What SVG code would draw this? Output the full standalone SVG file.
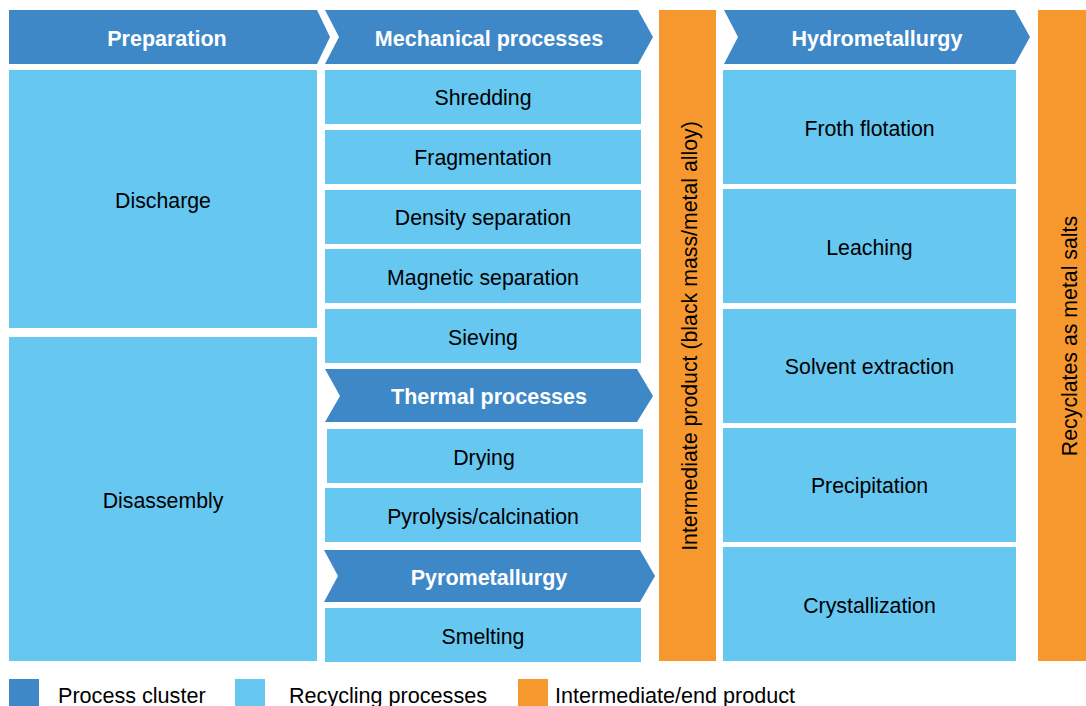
<svg xmlns="http://www.w3.org/2000/svg" width="1086" height="706" viewBox="0 0 1086 706">
<style>
.cl{fill:#3E88C8}
.rp{fill:#66C7F1}
.ip{fill:#F7982F}
text{font-family:"Liberation Sans",Arial,Helvetica,sans-serif}
.h{font-size:21.5px;font-weight:bold;fill:#FFFFFF;text-anchor:middle}
.t{font-size:21.3px;fill:#000000;text-anchor:middle}
.lg{font-size:21.6px;fill:#000000}
</style>
<rect width="1086" height="706" fill="#FFFFFF"/>
<g id="preparation"><polygon class="cl" points="9,10 317,10 330,37 317,64 9,64"/><text class="h" x="167" y="46">Preparation</text></g>
<g id="mechanical"><polygon class="cl" points="325,10 638,10 653,37 638,64 325,64 339,37"/><text class="h" x="489" y="46">Mechanical processes</text></g>
<g id="intermediate"><rect class="ip" x="659" y="10" width="57" height="651"/><text class="t" transform="translate(697,336) rotate(-90)">Intermediate product (black mass/metal alloy)</text></g>
<g id="hydrometallurgy"><polygon class="cl" points="724,10 1015,10 1030,37 1015,64 724,64 738,37"/><text class="h" x="877" y="46">Hydrometallurgy</text></g>
<g id="recyclates"><rect class="ip" x="1038" y="10" width="48" height="651"/><text class="t" transform="translate(1077,336) rotate(-90)">Recyclates as metal salts</text></g>
<g id="discharge"><rect class="rp" x="9" y="70" width="308" height="258"/><text class="t" x="163" y="208">Discharge</text></g>
<g id="disassembly"><rect class="rp" x="9" y="337" width="308" height="324"/><text class="t" x="163" y="508">Disassembly</text></g>
<g id="shredding"><rect class="rp" x="325" y="70" width="316" height="54"/><text class="t" x="483" y="105">Shredding</text></g>
<g id="fragmentation"><rect class="rp" x="325" y="130" width="316" height="54"/><text class="t" x="483" y="165">Fragmentation</text></g>
<g id="density"><rect class="rp" x="325" y="190" width="316" height="54"/><text class="t" x="483" y="225">Density separation</text></g>
<g id="magnetic"><rect class="rp" x="325" y="249" width="316" height="54"/><text class="t" x="483" y="285">Magnetic separation</text></g>
<g id="sieving"><rect class="rp" x="325" y="309" width="316" height="54"/><text class="t" x="483" y="345">Sieving</text></g>
<g id="thermal"><polygon class="cl" points="325,369 637,369 653,396 637,422 325,422 340,396"/><text class="h" x="489" y="404">Thermal processes</text></g>
<g id="drying"><rect class="rp" x="327" y="429" width="316" height="54"/><text class="t" x="484" y="465">Drying</text></g>
<g id="pyrolysis"><rect class="rp" x="325" y="488" width="316" height="54"/><text class="t" x="483" y="524">Pyrolysis/calcination</text></g>
<g id="pyrometallurgy"><polygon class="cl" points="324,550 640,550 655,576 640,602 324,602 338,576"/><text class="h" x="489" y="585">Pyrometallurgy</text></g>
<g id="smelting"><rect class="rp" x="325" y="608" width="316" height="54"/><text class="t" x="483" y="644">Smelting</text></g>
<g id="froth"><rect class="rp" x="723" y="70" width="293" height="114"/><text class="t" x="869.5" y="136">Froth flotation</text></g>
<g id="leaching"><rect class="rp" x="723" y="189" width="293" height="114"/><text class="t" x="869.5" y="255">Leaching</text></g>
<g id="solvent"><rect class="rp" x="723" y="309" width="293" height="114"/><text class="t" x="869.5" y="374">Solvent extraction</text></g>
<g id="precipitation"><rect class="rp" x="723" y="428" width="293" height="114"/><text class="t" x="869.5" y="493">Precipitation</text></g>
<g id="crystallization"><rect class="rp" x="723" y="547" width="293" height="114"/><text class="t" x="869.5" y="613">Crystallization</text></g>
<g id="connectors"></g>
<g id="legend">
<rect class="cl" x="9" y="679" width="30" height="27"/><text class="lg" x="58" y="703">Process cluster</text>
<rect class="rp" x="235" y="679" width="30" height="27"/><text class="lg" x="289" y="703">Recycling processes</text>
<rect class="ip" x="518" y="679" width="30" height="27"/><text class="lg" x="555" y="703">Intermediate/end product</text>
</g>
</svg>
